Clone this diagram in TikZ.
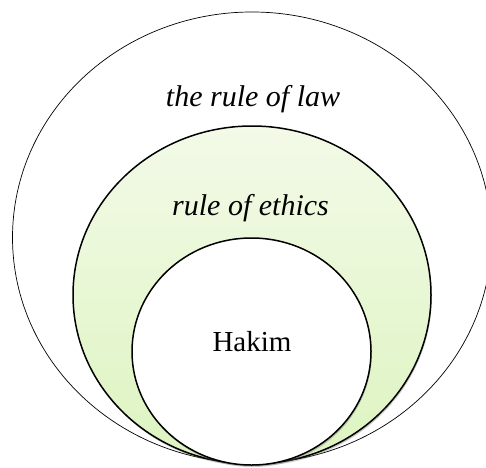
\documentclass[tikz,border=0pt]{standalone}
\usepackage{fontspec}
\setmainfont{Liberation Serif}
\usetikzlibrary{shapes.geometric,shadows}
\definecolor{greentop}{HTML}{F3FAE8}
\definecolor{greenbot}{HTML}{DDF4C0}
\tikzset{
  ring/.style={ellipse, draw=black, inner sep=0pt},
  shadowed/.style={drop shadow={opacity=0.35, shadow xshift=0.8pt, shadow yshift=-2pt, fill=black!60}},
  label/.style={anchor=base, inner sep=0pt, font=\fontsize{30}{36}\selectfont\itshape}
}
\begin{document}
\begin{tikzpicture}[x=1pt,y=1pt]
\useasboundingbox (0,0) rectangle (486,467);
\clip (0,0) rectangle (486,467);
\fill[white] (0,0) rectangle (486,467);
\node[ring, line width=0.7pt, fill=white, minimum width=479pt, minimum height=451pt] (law) at (252,229.5) {};
\node[ring, line width=1.5pt, shadowed, top color=greentop, bottom color=greenbot, minimum width=358pt, minimum height=338pt] (ethics) at (252,172) {};
\node[ring, line width=1.5pt, shadowed, fill=white, minimum width=239pt, minimum height=227pt] (hakim) at (251.5,115.5) {};
\node[label] (lawtext) at (253,361) {the rule of law};
\node[label] (ethicstext) at (250.5,252) {rule of ethics};
\node[anchor=base, inner sep=0pt, font=\fontsize{29}{35}\selectfont] (hakimtext) at (252,115.3) {Hakim};
\end{tikzpicture}
\end{document}
